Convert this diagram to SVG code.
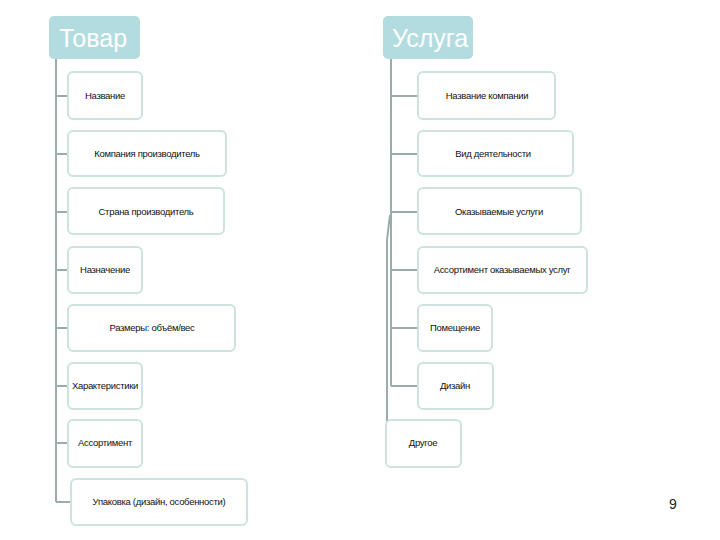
<svg xmlns="http://www.w3.org/2000/svg" width="720" height="540" viewBox="0 0 720 540">
<style>
.hdr{fill:#b3dce0;}
.htxt{font-family:"Liberation Sans",Arial,sans-serif;font-size:25px;fill:#ffffff;}
.box{fill:#ffffff;stroke:#cde3df;stroke-width:2;}
.t{font-family:"Liberation Sans",Arial,sans-serif;font-size:9.5px;fill:#111111;text-anchor:middle;letter-spacing:-0.3px;}
.c{stroke:#9aacab;stroke-width:2;fill:none;}
</style>
<rect width="720" height="540" fill="#ffffff"/>
<g id="connectors">
<path class="c" d="M56,59 V502 M56,96 H68 M56,154 H68 M56,212 H68 M56,270 H68 M56,328 H68 M56,386 H68 M56,443 H68 M56,502 H71"/>
<path class="c" d="M391,59 V386 M391,96 H418 M391,154 H418 M391,212 H418 M391,270 H418 M391,328 H418 M391,386 H418"/>
<path class="c" d="M390,215 L387,240 V443" stroke-width="1.5"/>
</g>
<g id="tovar"><rect class="hdr" x="49" y="16" width="91" height="43" rx="5"/><text class="htxt" x="59" y="47">Товар</text></g>
<g id="usluga"><rect class="hdr" x="383" y="16" width="90" height="43" rx="5"/><text class="htxt" x="392" y="47">Услуга</text></g>
<g id="n1"><rect class="box" x="68" y="72" width="74" height="47" rx="5"/><text class="t" x="105" y="99">Название</text></g>
<g id="n2"><rect class="box" x="68" y="131" width="158" height="45" rx="5"/><text class="t" x="147" y="157">Компания производитель</text></g>
<g id="n3"><rect class="box" x="68" y="188" width="156" height="46" rx="5"/><text class="t" x="146" y="215">Страна производитель</text></g>
<g id="n4"><rect class="box" x="68" y="247" width="74" height="46" rx="5"/><text class="t" x="105" y="273">Назначение</text></g>
<g id="n5"><rect class="box" x="68" y="305" width="167" height="46" rx="5"/><text class="t" x="152" y="331">Размеры: объём/вес</text></g>
<g id="n6"><rect class="box" x="68" y="363" width="74" height="46" rx="5"/><text class="t" x="105" y="389">Характеристики</text></g>
<g id="n7"><rect class="box" x="68" y="420" width="74" height="47" rx="5"/><text class="t" x="105" y="446">Ассортимент</text></g>
<g id="n8"><rect class="box" x="71" y="479" width="176" height="46" rx="5"/><text class="t" x="159" y="505">Упаковка (дизайн, особенности)</text></g>
<g id="m1"><rect class="box" x="418" y="72" width="137" height="47" rx="5"/><text class="t" x="487" y="99">Название компании</text></g>
<g id="m2"><rect class="box" x="418" y="131" width="155" height="45" rx="5"/><text class="t" x="493" y="157">Вид деятельности</text></g>
<g id="m3"><rect class="box" x="418" y="188" width="163" height="46" rx="5"/><text class="t" x="499" y="215">Оказываемые услуги</text></g>
<g id="m4"><rect class="box" x="418" y="247" width="169" height="46" rx="5"/><text class="t" x="502" y="273">Ассортимент оказываемых услуг</text></g>
<g id="m5"><rect class="box" x="418" y="305" width="74" height="46" rx="5"/><text class="t" x="455" y="331">Помещение</text></g>
<g id="m6"><rect class="box" x="418" y="363" width="75" height="46" rx="5"/><text class="t" x="455" y="389">Дизайн</text></g>
<g id="m7"><rect class="box" x="386" y="420" width="75" height="47" rx="5"/><text class="t" x="423" y="446">Другое</text></g>
<text x="673" y="509" font-family="'Liberation Sans',Arial,sans-serif" font-size="14" text-anchor="middle" fill="#222222">9</text>
</svg>
